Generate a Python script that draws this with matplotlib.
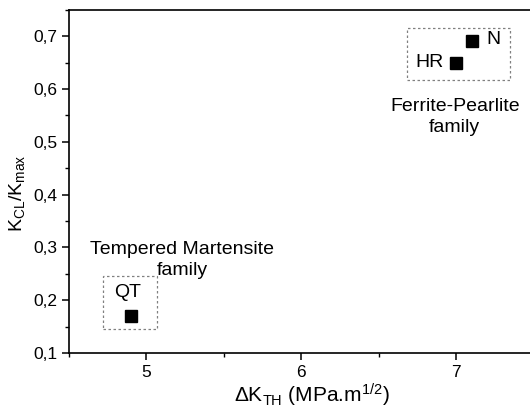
import matplotlib
matplotlib.use('Agg')
import matplotlib.pyplot as plt
from matplotlib.patches import Rectangle
from matplotlib.ticker import MultipleLocator, FuncFormatter

plt.rcParams['font.family'] = ['Liberation Sans', 'DejaVu Sans']
plt.rcParams['mathtext.fontset'] = 'custom'
plt.rcParams['mathtext.rm'] = 'Liberation Sans'
plt.rcParams['mathtext.it'] = 'Liberation Sans'

# values
materials = ['QT', 'HR', 'N']
dk_th = [4.90, 7.00, 7.10]
kcl_kmax = [0.17, 0.65, 0.69]

fig = plt.figure(figsize=(5.30, 4.09), dpi=100)
ax = fig.add_axes([0.130, 0.137, 0.877, 0.839])

ax.plot(dk_th, kcl_kmax, 's', color='black', markersize=9, linestyle='none')

ax.set_xlim(4.5, 7.5)
ax.set_ylim(0.1, 0.75)
ax.xaxis.set_major_locator(MultipleLocator(1))
ax.xaxis.set_minor_locator(MultipleLocator(0.5))
ax.yaxis.set_major_locator(MultipleLocator(0.1))
ax.yaxis.set_minor_locator(MultipleLocator(0.05))
ax.yaxis.set_major_formatter(FuncFormatter(lambda v, p: f'{v:.1f}'.replace('.', ',')))
ax.tick_params(which='major', direction='out', length=5, width=1.1, labelsize=12.5)
ax.tick_params(which='minor', direction='out', length=3, width=1.0)
for s in ['left', 'bottom', 'top']:
    ax.spines[s].set_linewidth(1.2)
ax.spines['right'].set_visible(False)

ax.set_xlabel(r'$\Delta$K$_{\mathrm{TH}}$ (MPa.m$^{\mathrm{1/2}}$)', fontsize=15)
ax.set_ylabel(r'K$_{\mathrm{CL}}$/K$_{\mathrm{max}}$', fontsize=14)
ax.xaxis.set_label_coords(0.523, -0.085)
ax.yaxis.set_label_coords(-0.09, 0.466)

# dashed group boxes
ax.add_patch(Rectangle((4.72, 0.145), 0.35, 0.101, fill=False, linestyle=(0, (2, 2)),
                       edgecolor='gray', linewidth=0.9))
ax.add_patch(Rectangle((6.68, 0.617), 0.67, 0.099, fill=False, linestyle=(0, (2, 2)),
                       edgecolor='gray', linewidth=0.9))

for name, x, y in [('QT', 4.88, 0.215), ('HR', 6.83, 0.651), ('N', 7.24, 0.693)]:
    ax.text(x, y, name, fontsize=14, ha='center', va='center')
ax.text(5.23, 0.276, 'Tempered Martensite\nfamily', fontsize=14, ha='center', va='center',
        linespacing=1.25)
ax.text(6.99, 0.547, 'Ferrite-Pearlite\nfamily', fontsize=14, ha='center', va='center',
        linespacing=1.25)

fig.savefig('out.png', dpi=100)
